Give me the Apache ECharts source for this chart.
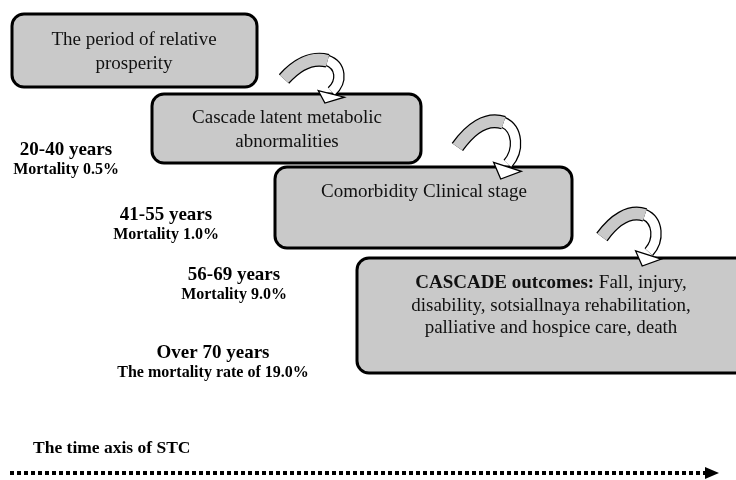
<!DOCTYPE html>
<html>
<head>
<meta charset="utf-8">
<script src="https://cdn.jsdelivr.net/npm/echarts@6/dist/echarts.min.js"></script>
<style>
  html, body { margin: 0; background: #fff; }
  #chart { width: 736px; height: 480px; }
</style>
</head>
<body>
<div id="chart"></div>
<script>
// texts of the diagram
const stages = [
  'The period of relative\nprosperity',
  'Cascade latent metabolic\nabnormalities',
  'Comorbidity Clinical stage',
  '{b|CASCADE outcomes:} Fall, injury,\ndisability, sotsiallnaya rehabilitation,\npalliative and hospice care, death'
];
const ageRanges = ['20-40 years', '41-55 years', '56-69 years', 'Over 70 years'];
const mortality = ['Mortality 0.5%', 'Mortality 1.0%', 'Mortality 9.0%', 'The mortality rate of 19.0%'];
const axisTitle = 'The time axis of STC';

// layout (page units on hidden 0..736 x 0..480 axes)
const boxRects = [[12, 14, 257, 87], [152, 94, 421, 163], [275, 167, 572, 248], [357, 258, 752, 373]];
const boxTextPos = [[134, 52], [287, 130], [424, 192], [551, 306]];
const agePos = [[66, 150], [166, 215], [234, 275], [213, 353]];
const arrowBoxes = [[278, 55, 345, 103], [451, 115, 522, 179], [596, 208, 662, 266]];
const timeAxisLine = [10, 706, 473];   // x start, x end, y
const timeAxisTitlePos = [33, 448];

const serif = '"Liberation Serif", "DejaVu Serif", serif';
const boxFill = '#c9c9c9';

// curved arrow, normalised inside its box
const arrowTail = [[0.09, 0.50], [0.27, 0.22], [0.50, 0.03], [0.74, 0.12]];
const arrowBend = [[0.73, 0.11], [0.95, 0.22], [0.96, 0.56], [0.80, 0.76]];
const arrowHead = [[0.60, 0.74], [0.99, 0.88], [0.70, 1.0]];

function renderBox(params, api) {
  const i = params.dataIndex;
  const r = boxRects[i];
  const p0 = api.coord([r[0], r[1]]);
  const p1 = api.coord([r[2], r[3]]);
  const t = api.coord(boxTextPos[i]);
  return {
    type: 'group',
    children: [
      {
        type: 'rect',
        shape: { x: p0[0], y: p0[1], width: p1[0] - p0[0], height: p1[1] - p0[1], r: 12 },
        style: { fill: boxFill, stroke: '#000', lineWidth: 3 }
      },
      {
        type: 'text',
        style: {
          text: stages[i], x: t[0], y: t[1],
          align: 'center', verticalAlign: 'middle',
          fontFamily: serif, fontSize: 19, lineHeight: i === 3 ? 22.5 : 24,
          fill: '#111',
          rich: { b: { fontFamily: serif, fontSize: 19, fontWeight: 'bold', fill: '#111' } }
        }
      }
    ]
  };
}

function renderAge(params, api) {
  const i = params.dataIndex;
  const p = api.coord(agePos[i]);
  return {
    type: 'group',
    children: [
      {
        type: 'text',
        style: {
          text: ageRanges[i], x: p[0], y: p[1], align: 'center', verticalAlign: 'middle',
          fontFamily: serif, fontSize: 19, fontWeight: 'bold', fill: '#000'
        }
      },
      {
        type: 'text',
        style: {
          text: mortality[i], x: p[0], y: p[1] + 20, align: 'center', verticalAlign: 'middle',
          fontFamily: serif, fontSize: 16, fontWeight: 'bold', fill: '#000'
        }
      }
    ]
  };
}

function renderArrow(params, api) {
  const b = arrowBoxes[params.dataIndex];
  const at = (q) => api.coord([b[0] + q[0] * (b[2] - b[0]), b[1] + q[1] * (b[3] - b[1])]);
  const curve = (pts, w, color) => {
    const c = pts.map(at);
    return {
      type: 'bezierCurve',
      shape: { x1: c[0][0], y1: c[0][1], cpx1: c[1][0], cpy1: c[1][1], cpx2: c[2][0], cpy2: c[2][1], x2: c[3][0], y2: c[3][1] },
      style: { stroke: color, lineWidth: w, fill: null }
    };
  };
  return {
    type: 'group',
    children: [
      curve(arrowBend, 11.5, '#000'),
      curve(arrowBend, 9, '#fff'),
      curve(arrowTail, 14, '#000'),
      curve(arrowTail, 11.5, boxFill),
      {
        type: 'polygon',
        shape: { points: arrowHead.map(at) },
        style: { fill: '#fff', stroke: '#000', lineWidth: 1.3 }
      }
    ]
  };
}

function renderTimeAxis(params, api) {
  const a = api.coord([timeAxisLine[0], timeAxisLine[2]]);
  const b = api.coord([timeAxisLine[1], timeAxisLine[2]]);
  const t = api.coord(timeAxisTitlePos);
  return {
    type: 'group',
    children: [
      {
        type: 'line',
        shape: { x1: a[0], y1: a[1], x2: b[0], y2: b[1] },
        style: { stroke: '#000', lineWidth: 4, lineDash: [4, 3], lineCap: 'butt' }
      },
      {
        type: 'polygon',
        shape: { points: [[b[0] - 1, b[1] - 6], [b[0] + 13, b[1]], [b[0] - 1, b[1] + 6]] },
        style: { fill: '#000' }
      },
      {
        type: 'text',
        style: {
          text: axisTitle, x: t[0], y: t[1], align: 'left', verticalAlign: 'middle',
          fontFamily: serif, fontSize: 17.5, fontWeight: 'bold', fill: '#000'
        }
      }
    ]
  };
}

const chart = echarts.init(document.getElementById('chart'));
chart.setOption({
  animation: false,
  backgroundColor: '#fff',
  grid: { left: 0, right: 0, top: 0, bottom: 0 },
  xAxis: { type: 'value', min: 0, max: 736, show: false },
  yAxis: { type: 'value', min: 0, max: 480, inverse: true, show: false },
  series: [
    { type: 'custom', clip: false, renderItem: renderBox, data: stages.map((_, i) => [i]) },
    { type: 'custom', clip: false, renderItem: renderArrow, data: arrowBoxes.map((_, i) => [i]) },
    { type: 'custom', clip: false, renderItem: renderAge, data: ageRanges.map((_, i) => [i]) },
    { type: 'custom', clip: false, renderItem: renderTimeAxis, data: [[0]] }
  ]
});
</script>
</body>
</html>
